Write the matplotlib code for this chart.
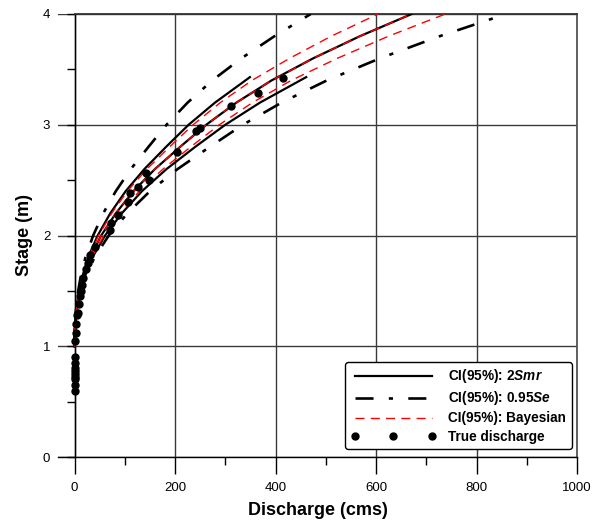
import matplotlib
matplotlib.use("Agg")
import matplotlib.pyplot as plt
from matplotlib.ticker import MultipleLocator

plt.rcParams['font.family'] = ['Liberation Sans', 'DejaVu Sans']
plt.rcParams['mathtext.fontset'] = 'custom'
plt.rcParams['mathtext.it'] = 'Liberation Sans:italic:bold'
plt.rcParams['mathtext.rm'] = 'Liberation Sans:bold'
plt.rcParams['lines.scale_dashes'] = False

# ---- data ----
stage = [1.0, 1.1, 1.2, 1.3, 1.4, 1.5, 1.6, 1.8, 2.0, 2.2, 2.4, 2.6, 2.8, 3.0,
         3.2, 3.4, 3.6, 3.8, 4.0]
q_central = [0, 0.2, 1.2, 3.1, 6.1, 10.3, 15.7, 30.7, 53, 82, 117, 160, 210,
             262, 322, 392, 475, 568, 671]

stage_smr = [1.0, 1.1, 1.2, 1.3, 1.4, 1.5, 1.6, 1.8, 2.0, 2.2, 2.4, 2.6, 2.8,
             3.0, 3.2, 3.4, 3.43]
q_smr_upper = [0, 0.17, 1.04, 2.7, 5.3, 8.9, 13.6, 26.6, 46, 71, 101.6, 139,
               182, 227, 279.5, 340, 349]
q_smr_lower = [0, 0.23, 1.37, 3.5, 7.0, 11.8, 18.0, 35.2, 60.7, 93.9, 134, 183,
               240, 300, 369, 449, 461]

q_se_upper = [0, 0.14, 0.84, 2.2, 4.3, 7.2, 11, 21.5, 37, 57, 82, 112, 147,
              183, 225, 274, 332, 398, 470]
q_se_lower = [0, 0.26, 1.5, 4.0, 7.8, 13.2, 20.1, 39.3, 68, 105, 150, 205, 269,
              335, 412, 502, 608, 727, 859]

q_bay_upper = [0, 0.18, 1.1, 2.8, 5.5, 9.3, 14.1, 27.6, 47.7, 73.8, 105, 144,
               189, 236, 290, 353, 428, 511, 604]
q_bay_lower = [0, 0.22, 1.3, 3.4, 6.7, 11.3, 17.3, 33.8, 58.3, 90, 129, 176,
               231, 288, 354, 431, 523, 625, 738]

obs_stage = [0.60, 0.65, 0.70, 0.72, 0.75, 0.78, 0.80, 0.85, 0.90, 1.05, 1.12,
             1.20, 1.28, 1.30, 1.38, 1.45, 1.50, 1.55, 1.62, 1.70, 1.75, 1.82,
             1.90, 2.05, 2.11, 2.185, 2.305, 2.38, 2.44, 2.50, 2.56, 2.757,
             2.94, 2.97, 3.17, 3.29, 3.425]
obs_q = [0.5, 0.5, 0.6, 0.6, 0.7, 0.8, 0.8, 1.0, 1.2, 1.5, 2, 3, 5, 6, 8, 10,
         12, 14, 17, 22, 26, 31, 40, 70, 72, 86, 106, 110, 126, 148, 143, 204,
         242, 250, 312, 365, 414]

labels = [r'CI(95%): 2$\mathit{Smr}$', r'CI(95%): 0.95$\mathit{Se}$',
          'CI(95%): Bayesian', 'True discharge']

# ---- figure ----
fig = plt.figure(figsize=(5.95, 5.26), dpi=100)
ax = fig.add_axes([58/595, 1-457/526, 519/595, 443/526])

grid_c = '#3a3a3a'
dashdot = (0, (13, 11, 3, 11))
reddash = (0, (6.5, 4.5))

h_smr, = ax.plot(q_smr_upper, stage_smr, color='black', lw=1.6, zorder=4)
ax.plot(q_smr_lower, stage_smr, color='black', lw=1.6, zorder=4)
ax.plot(q_central, stage, color='black', lw=1.6, zorder=4)

h_se, = ax.plot(q_se_upper, stage, color='black', lw=1.9, linestyle=dashdot, zorder=4)
ax.plot(q_se_lower, stage, color='black', lw=1.9, linestyle=dashdot, zorder=4)

h_bay, = ax.plot(q_bay_upper, stage, color='#ff0000', lw=1.0, linestyle=reddash, zorder=5)
ax.plot(q_bay_lower, stage, color='#ff0000', lw=1.0, linestyle=reddash, zorder=5)
ax.plot(q_central, stage, color='#ff0000', lw=1.0, linestyle=reddash, zorder=5)

h_obs, = ax.plot(obs_q, obs_stage, linestyle='none', marker='o', ms=5,
                 color='black', zorder=6)

ax.set_xlim(-33, 1000)
ax.set_ylim(0, 4)

ax.xaxis.set_major_locator(MultipleLocator(200))
ax.xaxis.set_minor_locator(MultipleLocator(100))
ax.yaxis.set_major_locator(MultipleLocator(1))
ax.yaxis.set_minor_locator(MultipleLocator(0.5))

ax.grid(True, which='major', color=grid_c, lw=1.0, zorder=1)

ax.spines['left'].set_position(('data', 0))
ax.spines['left'].set_color('black')
ax.spines['left'].set_linewidth(1.0)
ax.spines['top'].set_bounds(0, 1000)
ax.spines['top'].set_linewidth(1.3)
ax.spines['top'].set_color('#333333')
ax.spines['right'].set_linewidth(1.3)
ax.spines['right'].set_color('#555555')
ax.spines['bottom'].set_linewidth(1.0)
for s in ax.spines.values():
    s.set_zorder(3)

ax.tick_params(axis='x', which='major', direction='out', length=12, width=1.0,
               pad=6, labelsize=9.5)
ax.tick_params(axis='x', which='minor', direction='out', length=6, width=1.0)
ax.tick_params(axis='y', which='both', direction='out', length=6, width=1.0,
               pad=11.5, labelsize=9.5)

ax.set_xlabel('Discharge (cms)', fontsize=13, fontweight='bold', labelpad=6)
ax.set_ylabel('Stage (m)', fontsize=13, fontweight='bold', labelpad=7)

leg = ax.legend([h_smr, h_se, h_bay, h_obs], labels, loc='lower right',
                bbox_to_anchor=(0.990, 0.018), borderaxespad=0, numpoints=3,
                handlelength=6.3, fancybox=True, framealpha=1,
                edgecolor='black', prop={'weight': 'bold', 'size': 9.8},
                labelspacing=0.3, handletextpad=0.9, borderpad=0.4)
leg.get_frame().set_linewidth(1.0)
leg.set_zorder(10)

fig.savefig('out.png', dpi=100)
